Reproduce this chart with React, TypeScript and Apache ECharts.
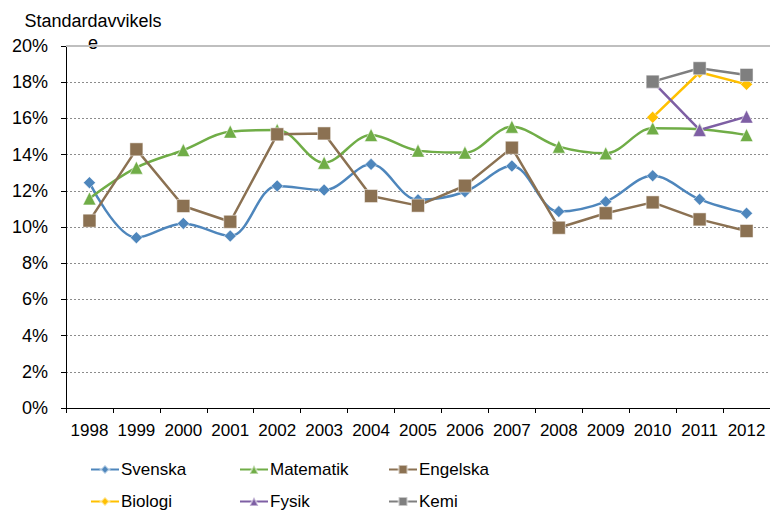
import React, { useEffect, useRef } from "react";
import * as echarts from "echarts";

const years = ["1998","1999","2000","2001","2002","2003","2004","2005","2006","2007","2008","2009","2010","2011","2012"];
const svenska = [12.45, 9.41, 10.2, 9.5, 12.27, 12.04, 13.46, 11.5, 11.95, 13.37, 10.85, 11.4, 12.83, 11.53, 10.76];
const matematik = [11.58, 13.28, 14.25, 15.27, 15.36, 13.55, 15.08, 14.22, 14.11, 15.54, 14.44, 14.07, 15.45, 15.4, 15.08];
const engelska = [10.35, 14.29, 11.16, 10.29, 15.12, 15.17, 11.71, 11.18, 12.28, 14.38, 9.96, 10.76, 11.36, 10.42, 9.78];
const biologi = [null, null, null, null, null, null, null, null, null, null, null, null, 16.06, 18.55, 17.88];
const fysik = [null, null, null, null, null, null, null, null, null, null, null, null, 18.03, 15.36, 16.1];
const kemi = [null, null, null, null, null, null, null, null, null, null, null, null, 18.03, 18.77, 18.4];
const yTicks = { min: 0, max: 20, interval: 2 };
const titleText = "Standardavvikels\ne";

const FONT = "Liberation Sans, Arial, sans-serif";

export default function App() {
  const ref = useRef<HTMLDivElement>(null);
  useEffect(() => {
    const chart = echarts.init(ref.current!, null, { renderer: "svg" });
    const mk = (name: string, data: any[], color: string, symbol: string, size: number, smooth: boolean) => ({
      name,
      type: "line",
      data,
      smooth: smooth ? 0.35 : false,
      symbol,
      symbolSize: size,
      connectNulls: false,
      lineStyle: { color, width: 2.5 },
      itemStyle: { color, borderColor: "rgba(255,255,255,0.5)", borderWidth: 1 },
    });
    const series = [
      mk("Svenska", svenska, "#4E86BC", "diamond", 12, true),
      mk("Matematik", matematik, "#70AD47", "triangle", 13, true),
      mk("Engelska", engelska, "#8B7152", "rect", 13, false),
      mk("Biologi", biologi, "#FFC000", "diamond", 12, false),
      mk("Fysik", fysik, "#7E5FA4", "triangle", 13, false),
      mk("Kemi", kemi, "#7F7F7F", "rect", 13, false),
    ];
    const legendPos = [
      [90, 461], [239, 461], [388, 461],
      [90, 493], [239, 493], [388, 493],
    ];
    const legends = series.map((s, i) => ({
      data: [s.name],
      left: legendPos[i][0],
      top: legendPos[i][1],
      itemWidth: 28,
      itemHeight: 11,
      itemGap: 0,
      padding: 0,
      textStyle: { fontFamily: FONT, fontSize: 17, color: "#000", padding: [0, 0, 0, -3] },
    }));
    chart.setOption({
      animation: false,
      backgroundColor: "#fff",
      grid: { left: 66, right: 0, top: 46, bottom: 103 },
      legend: legends,
      graphic: [
        {
          type: "text",
          x: 93,
          y: 10,
          style: {
            text: titleText,
            fontFamily: FONT,
            fontSize: 18,
            fill: "#000",
            align: "center",
            lineHeight: 22,
          },
        },
        {
          type: "line",
          shape: { x1: 66, y1: 46, x2: 770, y2: 46 },
          style: { stroke: "#BFBFBF", lineWidth: 2 },
          z: 1,
        },
      ],
      xAxis: {
        type: "category",
        data: years,
        boundaryGap: true,
        axisLine: { lineStyle: { color: "#000", width: 1 } },
        axisTick: { show: true, length: 5, lineStyle: { color: "#000" } },
        axisLabel: { fontFamily: FONT, fontSize: 17, color: "#000", margin: 14, interval: 0 },
      },
      yAxis: {
        type: "value",
        min: yTicks.min,
        max: yTicks.max,
        interval: yTicks.interval,
        axisLine: { show: true, lineStyle: { color: "#000", width: 1 } },
        axisTick: { show: true, length: 5, lineStyle: { color: "#000" } },
        axisLabel: { fontFamily: FONT, fontSize: 18, color: "#000", margin: 18, formatter: "{value}%" },
        splitLine: { show: true, lineStyle: { color: "#8C8C8C", type: [2, 2], width: 1 } },
      },
      series,
    });
    return () => chart.dispose();
  }, []);
  return (
    <div
      ref={ref}
      style={{ position: "fixed", left: 0, top: 0, width: 770, height: 511 }}
    />
  );
}
